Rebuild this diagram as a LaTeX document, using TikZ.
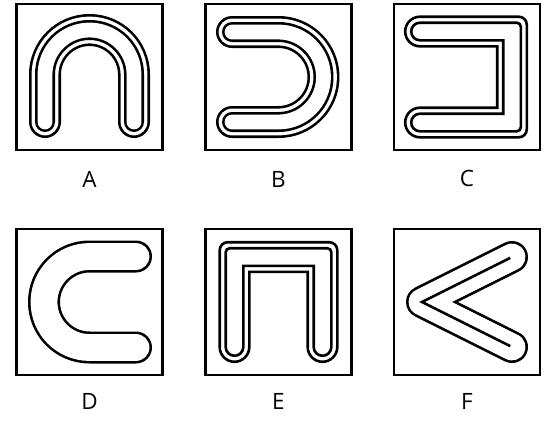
\documentclass[tikz,border=0pt]{standalone}
\usepackage{fontspec}
\setmainfont{Open Sans}
\usepackage{tikz}
\usetikzlibrary{positioning}
\tikzset{
  % --- frames and letters ----------------------------------------------
  panel/.style ={draw, line width=2.8pt, minimum size=146pt, inner sep=0pt},
  lab/.style   ={font=\fontsize{22.5}{22.5}\selectfont, text=black, inner sep=0pt},
  % --- tube strokes ----------------------------------------------------
  wall/.style  ={draw=black, line width=#1, line cap=round, line join=round},
  core/.style  ={draw=white, line width=#1, line cap=round, line join=round},
  rim/.style   ={draw=black, line width=2.6pt, line join=miter},   % traced outline
  spine/.style ={draw=black, line width=2.6pt, line join=miter,
                 shorten <=2pt, shorten >=2pt},
}
% one outline round a path, or an outline with a second tube inside
\newcommand{\onetube}[1]{%
  \draw[wall=32pt] #1; \draw[core=26.8pt] #1;}
\newcommand{\twintube}[1]{%
  \draw[wall=32pt] #1; \draw[core=26.8pt] #1;
  \draw[wall=20pt] #1; \draw[core=14.8pt] #1;}

\begin{document}
\begin{tikzpicture}[x=1pt, y=-1pt]
  \useasboundingbox (0,0) rectangle (547,421);

  % ===================== frames =====================
  \node[panel] (boxA) at (89.5,77)  {};
  \node[panel] (boxB) at (278.5,77) {};
  \node[panel] (boxC) at (467,77)   {};
  \node[panel] (boxD) at (89.5,302) {};
  \node[panel] (boxE) at (278.5,302) {};
  \node[panel] (boxF) at (467,302)  {};

  % ===================== letters =====================
  \node[lab] (labA) at (89.5,179)  {A};
  \node[lab] (labB) at (278.5,179) {B};
  \node[lab] (labC) at (467,178)   {C};
  \node[lab] (labD) at (89.5,401)  {D};
  \node[lab] (labE) at (278.5,401) {E};
  \node[lab] (labF) at (467,401)   {F};

  % ===================== A: arch =====================
  \begin{scope}[shift={(boxA.center)}]
    \twintube{(-44.5,45) -- (-44.5,-2.5) arc[start angle=180, end angle=360, radius=44.5] -- (44.5,45)}
  \end{scope}

  % ===================== B: open to the left =====================
  \begin{scope}[shift={(boxB.center)}]
    \twintube{(-46.5,-45) -- (0,-45) arc[start angle=270, end angle=450, radius=45] -- (-46.5,45)}
  \end{scope}

  % ===================== C: square bracket =====================
  \begin{scope}[shift={(boxC.center)}]
    \draw[rim] (-47,-60.3) -- (51.8,-60.3) arc[start angle=270, end angle=360, radius=8]
      -- (59.8,52.3) arc[start angle=0, end angle=90, radius=8]
      -- (-47,60.3) arc[start angle=90, end angle=270, radius=14.8]
      -- (30.2,30.7) -- (30.2,-30.7)
      -- (-47,-30.7) arc[start angle=90, end angle=270, radius=14.8] -- cycle;
    \draw[rim] (-47,-54.3) -- (49.8,-54.3) arc[start angle=270, end angle=360, radius=4]
      -- (53.8,50.3) arc[start angle=0, end angle=90, radius=4]
      -- (-47,54.3) arc[start angle=90, end angle=270, radius=8.8]
      -- (36.2,36.7) -- (36.2,-36.7)
      -- (-47,-36.7) arc[start angle=90, end angle=270, radius=8.8] -- cycle;
  \end{scope}

  % ===================== D: open to the right =====================
  \begin{scope}[shift={(boxD.center)}]
    \onetube{(46.5,-45.5) -- (0,-45.5) arc[start angle=270, end angle=90, radius=45.5] -- (46.5,45.5)}
  \end{scope}

  % ===================== E: square arch =====================
  \begin{scope}[shift={(boxE.center)}]
    \draw[rim] (-58.8,45) -- (-58.8,-51.8) arc[start angle=180, end angle=270, radius=8]
      -- (50.8,-59.8) arc[start angle=270, end angle=360, radius=8]
      -- (58.8,45) arc[start angle=0, end angle=180, radius=14.8]
      -- (29.2,-30.2) -- (-29.2,-30.2)
      -- (-29.2,45) arc[start angle=0, end angle=180, radius=14.8] -- cycle;
    \draw[rim] (-52.8,45) -- (-52.8,-49.8) arc[start angle=180, end angle=270, radius=4]
      -- (48.8,-53.8) arc[start angle=270, end angle=360, radius=4]
      -- (52.8,45) arc[start angle=0, end angle=180, radius=8.8]
      -- (35.2,-36.2) -- (-35.2,-36.2)
      -- (-35.2,45) arc[start angle=0, end angle=180, radius=8.8] -- cycle;
  \end{scope}

  % ===================== F: angle =====================
  \begin{scope}[shift={(boxF.center)}]
    \onetube{(45,-45) -- (-45,0) -- (45,45)}
    \draw[spine] (45,-45) -- (-45,0) -- (45,45);
  \end{scope}

\end{tikzpicture}
\end{document}
